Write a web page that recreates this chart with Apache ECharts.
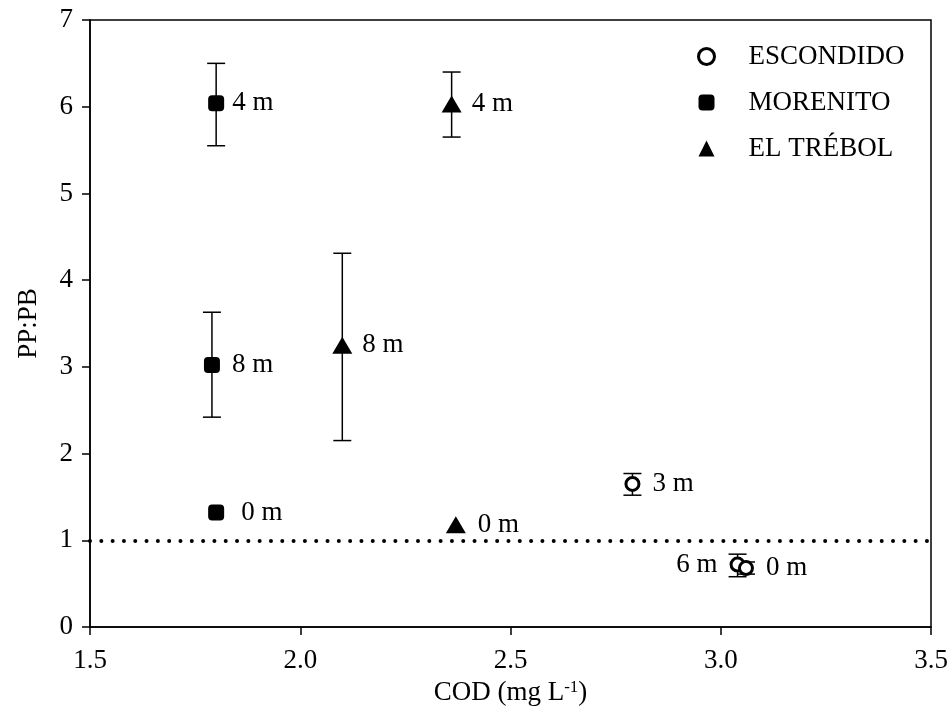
<!DOCTYPE html>
<html>
<head>
<meta charset="utf-8">
<script src="https://cdn.jsdelivr.net/npm/echarts@6/dist/echarts.min.js"></script>
<style>html,body{margin:0;padding:0;background:#fff}#c{width:952px;height:722px}</style>
</head>
<body>
<div id="c"></div>
<script>
const seriesNames = ['ESCONDIDO', 'MORENITO', 'EL TRÉBOL'];
const escDepth = ['3 m', '6 m', '0 m'];
const escX = [2.79, 3.04, 3.06];
const escY = [1.65, 0.72, 0.68];
const escLow = [1.52, 0.58, 0.61];
const escHigh = [1.77, 0.84, 0.75];
const morDepth = ['4 m', '8 m', '0 m'];
const morX = [1.80, 1.79, 1.80];
const morY = [6.04, 3.02, 1.32];
const morLow = [5.55, 2.42, 1.32];
const morHigh = [6.50, 3.63, 1.32];
const treDepth = ['4 m', '8 m', '0 m'];
const treX = [2.36, 2.10, 2.37];
const treY = [6.03, 3.25, 1.18];
const treLow = [5.65, 2.15, 1.18];
const treHigh = [6.40, 4.31, 1.18];
const labelSide = {esc: ['right', 'left', 'right'], mor: ['right', 'right', 'right'], tre: ['right', 'right', 'right']};
const refLine = 1;
const xMin = 1.5, xMax = 3.5, xStep = 0.5;
const yMin = 0, yMax = 7, yStep = 1;

const font = 'Liberation Serif';
const fs = 27;
function pts(xs, ys, depth, sides, dist) {
  return xs.map((x, i) => ({
    value: [x, ys[i]],
    label: {show: true, formatter: depth[i], position: sides[i], distance: dist[i]}
  }));
}
function errs(xs, lo, hi) {
  return xs.map((x, i) => [x, lo[i], hi[i]]);
}
const errData = [].concat(errs(escX, escLow, escHigh), errs(morX, morLow, morHigh), errs(treX, treLow, treHigh))
  .filter(d => d[2] - d[1] > 0.001);

const labelStyle = {fontFamily: font, fontSize: fs, color: '#000', opacity: 1};

const chart = echarts.init(document.getElementById('c'));
chart.setOption({
  animation: false,
  backgroundColor: '#fff',
  grid: {left: 90, right: 21, top: 20, bottom: 95, show: true, borderColor: '#000', borderWidth: 1.5, backgroundColor: 'transparent'},
  legend: {
    orient: 'vertical', left: 692, top: 38, itemGap: 19, itemWidth: 16, itemHeight: 16,
    data: [
      {name: seriesNames[0], itemStyle: {borderWidth: 3, borderColor: '#000', color: '#fff'}},
      {name: seriesNames[1]},
      {name: seriesNames[2]}
    ],
    textStyle: {fontFamily: font, fontSize: fs, color: '#000', padding: [0, 0, 0, 29]}
  },
  xAxis: {
    type: 'value', min: xMin, max: xMax, interval: xStep,
    axisLine: {lineStyle: {color: '#000', width: 1.5}},
    axisTick: {inside: false, length: 8, lineStyle: {color: '#000', width: 1.5}},
    splitLine: {show: false},
    axisLabel: {fontFamily: font, fontSize: fs, color: '#000', margin: 20, formatter: v => v.toFixed(1)},
    name: 'COD (mg L{sup|-1})', nameLocation: 'middle', nameGap: 48,
    nameTextStyle: {fontFamily: font, fontSize: fs, color: '#000', rich: {sup: {fontFamily: font, fontSize: 17, color: '#000', verticalAlign: 'top', padding: [0, 0, 12, 0]}}}
  },
  yAxis: {
    type: 'value', min: yMin, max: yMax, interval: yStep,
    axisLine: {lineStyle: {color: '#000', width: 1.5}},
    axisTick: {inside: false, length: 8, lineStyle: {color: '#000', width: 1.5}},
    splitLine: {show: false},
    axisLabel: {fontFamily: font, fontSize: fs, color: '#000', margin: 17},
    name: 'PP:PB', nameLocation: 'middle', nameGap: 48,
    nameTextStyle: {fontFamily: font, fontSize: fs, color: '#000'}
  },
  series: [
    {
      type: 'custom', name: 'err', silent: true, z: 2,
      data: errData,
      renderItem: function (params, api) {
        const x = api.value(0);
        const lo = api.coord([x, api.value(1)]);
        const hi = api.coord([x, api.value(2)]);
        const w = 9;
        const st = {stroke: '#000', lineWidth: 1.5, fill: null};
        return {type: 'group', children: [
          {type: 'line', shape: {x1: lo[0], y1: lo[1], x2: hi[0], y2: hi[1]}, style: st},
          {type: 'line', shape: {x1: lo[0] - w, y1: lo[1], x2: lo[0] + w, y2: lo[1]}, style: st},
          {type: 'line', shape: {x1: hi[0] - w, y1: hi[1], x2: hi[0] + w, y2: hi[1]}, style: st}
        ]};
      }
    },
    {
      type: 'scatter', name: seriesNames[0], z: 5, symbol: 'circle', symbolSize: 13,
      itemStyle: {color: '#fff', borderColor: '#000', borderWidth: 3, opacity: 1},
      label: labelStyle,
      data: pts(escX, escY, escDepth, labelSide.esc, [12, 12, 12]),
      markLine: {
        silent: true, symbol: 'none', label: {show: false},
        lineStyle: {color: '#000', width: 4, type: [0.01, 11.3], cap: 'round', opacity: 1},
        data: [{yAxis: refLine}]
      }
    },
    {
      type: 'scatter', name: seriesNames[1], z: 5, symbol: 'roundRect', symbolSize: 16,
      itemStyle: {color: '#000', opacity: 1},
      label: labelStyle,
      data: pts(morX, morY, morDepth, labelSide.mor, [8, 12, 17])
    },
    {
      type: 'scatter', name: seriesNames[2], z: 5, symbol: 'triangle', symbolSize: [20, 17],
      itemStyle: {color: '#000', opacity: 1},
      label: labelStyle,
      data: pts(treX, treY, treDepth, labelSide.tre, [10, 10, 12])
    }
  ]
});
</script>
</body>
</html>
